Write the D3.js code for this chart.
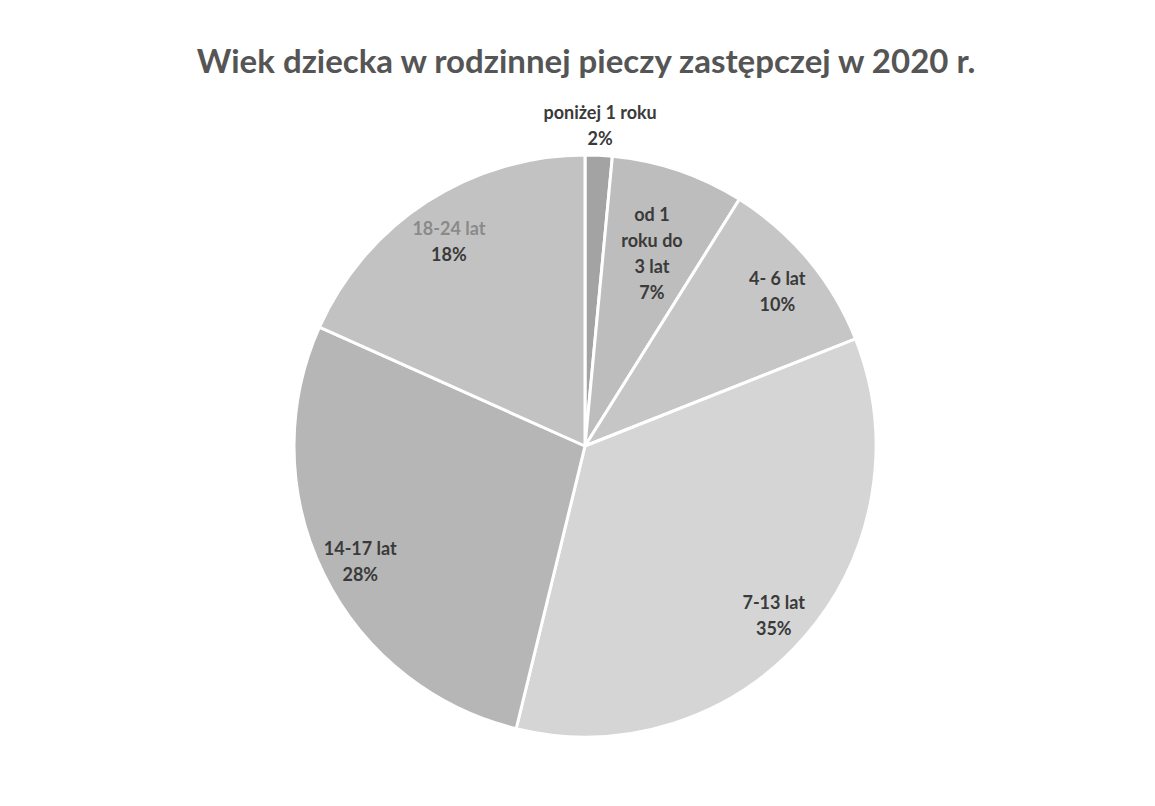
<!DOCTYPE html>
<html><head><meta charset="utf-8">
<script src="https://cdn.jsdelivr.net/npm/d3@7"></script>
<style>body{margin:0;background:#fff}svg{display:block}</style>
</head><body>
<script>
const title = "Wiek dziecka w rodzinnej pieczy zastępczej w 2020 r.";
const categories = [["poniżej 1 roku"], ["od 1", "roku do", "3 lat"], ["4- 6 lat"], ["7-13 lat"], ["14-17 lat"], ["18-24 lat"]];
const values = [1.5, 7.4, 10.1, 34.8, 27.9, 18.3];
const colors = ["#a3a3a3", "#bdbdbd", "#c6c6c6", "#d5d5d5", "#b6b6b6", "#c2c2c2"];
const labelColors = ["#3a3a3a", "#3a3a3a", "#3a3a3a", "#3a3a3a", "#3a3a3a", "#8a8a8a"];

const W = 1155, H = 806;
const cx = 585, cy = 446, R = 291;
const svg = d3.select("body").append("svg").attr("width", W).attr("height", H);

svg.append("text").attr("x", 586).attr("y", 73).attr("text-anchor", "middle")
  .attr("font-family", "Lato, 'Open Sans', sans-serif").attr("font-weight", "bold")
  .attr("font-size", 33).attr("fill", "#555").text(title);

const data = values.map((v, i) => ({v, i}));
const pie = d3.pie().value(d => d.v).sort(null);
const arcs = pie(data);
const arc = d3.arc().innerRadius(0).outerRadius(R);
const g = svg.append("g").attr("transform", `translate(${cx},${cy})`);
g.selectAll("path").data(arcs).join("path")
  .attr("d", arc).attr("fill", d => colors[d.data.i])
  .attr("stroke", "#fff").attr("stroke-width", 3).attr("stroke-linejoin", "round");

const lh = 26;
arcs.forEach(a => {
  const i = a.data.i;
  const small = a.data.v < 3;
  const lines = categories[i].concat([Math.round(a.data.v) + "%"]);
  const lr = small ? R * 1.1 : R * 0.86 - (lines.length - 2) * lh * 0.8;
  const [lx, ly] = d3.arc().innerRadius(lr).outerRadius(lr).centroid(a);
  const t = g.append("text").attr("text-anchor", "middle")
    .attr("font-family", "Lato, 'Open Sans', sans-serif").attr("font-weight", "bold")
    .attr("font-size", 18);
  const y0 = ly - (lines.length - 1) * lh / 2 + (small ? 6 : 12);
  lines.forEach((s, k) => {
    t.append("tspan").attr("x", lx).attr("y", y0 + k * lh)
      .attr("fill", (k === lines.length - 1) ? "#3a3a3a" : labelColors[i]).text(s);
  });
});
</script>
</body></html>
